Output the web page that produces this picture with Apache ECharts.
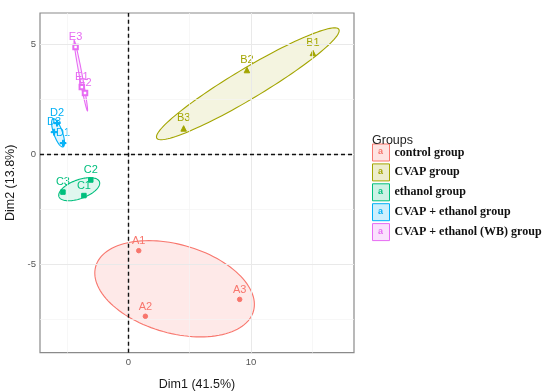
<!DOCTYPE html>
<html>
<head>
<meta charset="utf-8">
<script src="https://cdn.jsdelivr.net/npm/echarts@6/dist/echarts.min.js"></script>
<style>html,body{margin:0;padding:0;background:#fff}#c{width:550px;height:391px}</style>
</head>
<body>
<div id="c"></div>
<script>
// ---- data ----
const groupNames = ['control group', 'CVAP group', 'ethanol group', 'CVAP + ethanol group', 'CVAP + ethanol (WB) group'];
const controlLabels = ['A1', 'A2', 'A3'];
const controlDim1 = [0.85, 1.39, 9.08];
const controlDim2 = [-4.39, -7.38, -6.61];
const cvapLabels = ['B1', 'B2', 'B3'];
const cvapDim1 = [15.05, 9.67, 4.51];
const cvapDim2 = [4.62, 3.84, 1.18];
const ethanolLabels = ['C1', 'C2', 'C3'];
const ethanolDim1 = [-3.62, -3.06, -5.33];
const ethanolDim2 = [-1.88, -1.17, -1.72];
const cvapEthLabels = ['D1', 'D2', 'D3'];
const cvapEthDim1 = [-5.32, -5.81, -6.05];
const cvapEthDim2 = [0.51, 1.42, 1.01];
const wbLabels = ['E1', 'E2', 'E3'];
const wbDim1 = [-3.79, -3.53, -4.30];
const wbDim2 = [3.07, 2.80, 4.89];
const xTicks = [0, 10];
const xMinorTicks = [-5, 5, 15];
const yTicks = [-5, 0, 5];
const yMinorTicks = [-7.5, -2.5, 2.5];
const xRange = [-7.2, 18.4];
const yRange = [-9.04, 6.44];

// ---- styles ----
const colors = ['#F8766D', '#A3A500', '#00BF7D', '#00B0F6', '#E76BF3'];
const fills = ['rgba(248,118,109,0.16)', 'rgba(163,165,0,0.12)', 'rgba(0,191,125,0.12)', 'rgba(0,176,246,0.12)', 'rgba(231,107,243,0.12)'];
const keyFills = ['rgba(248,118,109,0.2)', 'rgba(163,165,0,0.2)', 'rgba(0,191,125,0.2)', 'rgba(0,176,246,0.2)', 'rgba(231,107,243,0.2)'];
const symbols = ['circle', 'triangle', 'rect',
  'path://M-0.18,-1H0.18V-0.18H1V0.18H0.18V1H-0.18V0.18H-1V-0.18H-0.18Z',
  'emptyRect'];
const symbolSizes = [4.5, 5.5, 4.5, 6, 4.5];

const groups = [
  [controlLabels, controlDim1, controlDim2],
  [cvapLabels, cvapDim1, cvapDim2],
  [ethanolLabels, ethanolDim1, ethanolDim2],
  [cvapEthLabels, cvapEthDim1, cvapEthDim2],
  [wbLabels, wbDim1, wbDim2]
];

// confidence ellipse of the group mean (95%, chi-square 2 df)
const CHI2_95 = 5.991;
function ellipse(xs, ys, nSeg) {
  const n = xs.length;
  const mx = xs.reduce((a, b) => a + b, 0) / n;
  const my = ys.reduce((a, b) => a + b, 0) / n;
  let sxx = 0, syy = 0, sxy = 0;
  for (let i = 0; i < n; i++) {
    sxx += (xs[i] - mx) ** 2; syy += (ys[i] - my) ** 2; sxy += (xs[i] - mx) * (ys[i] - my);
  }
  sxx /= (n - 1); syy /= (n - 1); sxy /= (n - 1);
  const tr = sxx + syy, det = sxx * syy - sxy * sxy;
  const disc = Math.sqrt(Math.max(tr * tr / 4 - det, 0));
  const l1 = tr / 2 + disc, l2 = Math.max(tr / 2 - disc, 0);
  let vx, vy;
  if (Math.abs(sxy) > 1e-12) { vx = l1 - syy; vy = sxy; } else if (sxx >= syy) { vx = 1; vy = 0; } else { vx = 0; vy = 1; }
  const vn = Math.hypot(vx, vy); vx /= vn; vy /= vn;
  const r = Math.sqrt(CHI2_95 / n);
  const a = r * Math.sqrt(l1), b = r * Math.sqrt(l2);
  const pts = [];
  for (let k = 0; k <= nSeg; k++) {
    const t = 2 * Math.PI * k / nSeg;
    const u = a * Math.cos(t), v = b * Math.sin(t);
    pts.push([mx + u * vx - v * vy, my + u * vy + v * vx]);
  }
  return pts;
}

const ellipseData = groups.map((g, i) => ({ value: [i], pts: ellipse(g[1], g[2], 120) }));

const series = [];
const gridLine = (c, w) => ({ color: c, width: w, type: 'solid' });
series.push({
  type: 'scatter', data: [], z: 0, silent: true,
  markLine: {
    silent: true, symbol: ['none', 'none'], label: { show: false }, animation: false,
    data: [
      ...xMinorTicks.map(v => ({ xAxis: v, lineStyle: gridLine('#f3f3f3', 0.7) })),
      ...yMinorTicks.map(v => ({ yAxis: v, lineStyle: gridLine('#f3f3f3', 0.7) })),
      ...xTicks.map(v => ({ xAxis: v, lineStyle: gridLine('#e9e9e9', 1) })),
      ...yTicks.map(v => ({ yAxis: v, lineStyle: gridLine('#e9e9e9', 1) }))
    ]
  }
});
series.push({
  type: 'custom', z: 1, silent: true,
  data: ellipseData.map(d => d.value),
  renderItem: function (params, api) {
    const i = api.value(0);
    const points = ellipseData[i].pts.map(p => api.coord(p));
    return {
      type: 'polygon', shape: { points: points },
      style: { fill: fills[i], stroke: colors[i], lineWidth: 1.1 }
    };
  }
});
series.push({
  type: 'scatter', data: [], z: 2, silent: true,
  markLine: {
    silent: true, symbol: ['none', 'none'], label: { show: false }, animation: false,
    lineStyle: { color: '#111', width: 1.4, type: [4, 3] },
    data: [{ xAxis: 0 }, { yAxis: 0 }]
  }
});
groups.forEach((g, i) => {
  series.push({
    name: groupNames[i], type: 'scatter', z: 3,
    symbol: symbols[i], symbolSize: symbolSizes[i],
    itemStyle: { color: colors[i], borderColor: colors[i], opacity: 1 },
    label: {
      show: true, position: 'top', distance: 1.5, formatter: p => p.name,
      color: colors[i], fontSize: 11, fontFamily: 'Liberation Sans, Arial, sans-serif'
    },
    data: g[0].map((lab, k) => ({ name: lab, value: [g[1][k], g[2][k]] }))
  });
});

const KEY_TOP = 143.5, KEY_H = 17, KEY_GAP = 1.9;
const option = {
  animation: false,
  backgroundColor: '#fff',
  title: {
    text: 'Groups', left: 372, top: 134, padding: 0,
    textStyle: { fontSize: 12.5, fontWeight: 'normal', color: '#222', fontFamily: 'Liberation Sans, Arial, sans-serif' }
  },
  legend: {
    orient: 'vertical', left: 372, top: KEY_TOP, padding: 0, itemWidth: 17, itemHeight: KEY_H, itemGap: KEY_GAP,
    selectedMode: false,
    textStyle: { fontFamily: 'Liberation Serif, Times New Roman, serif', fontWeight: 'bold', fontSize: 12, color: '#111', lineHeight: 17 },
    data: groupNames.map((n, i) => ({
      name: n, icon: 'rect',
      itemStyle: { color: keyFills[i], borderColor: colors[i], borderWidth: 1 }
    }))
  },
  grid: { left: 40, top: 13, right: 196, bottom: 38.3, show: true, borderColor: '#8a8a8a', borderWidth: 1.2, backgroundColor: '#fff', containLabel: false, outerBoundsMode: 'none' },
  xAxis: {
    type: 'value', min: xRange[0], max: xRange[1],
    name: 'Dim1 (41.5%)', nameLocation: 'middle', nameGap: 25,
    nameTextStyle: { fontSize: 12.5, color: '#1a1a1a', fontFamily: 'Liberation Sans, Arial, sans-serif' },
    axisLine: { show: false },
    axisTick: { show: true, length: 3, lineStyle: { color: '#555' }, customValues: xTicks },
    axisLabel: { customValues: xTicks, fontSize: 9.5, color: '#555', margin: 5, fontFamily: 'Liberation Sans, Arial, sans-serif' },
    splitLine: { show: false }
  },
  yAxis: {
    type: 'value', min: yRange[0], max: yRange[1],
    name: 'Dim2 (13.8%)', nameLocation: 'middle', nameGap: 21,
    nameTextStyle: { fontSize: 12.5, color: '#1a1a1a', fontFamily: 'Liberation Sans, Arial, sans-serif' },
    axisLine: { show: false },
    axisTick: { show: true, length: 3, lineStyle: { color: '#555' }, customValues: yTicks },
    axisLabel: { customValues: yTicks, fontSize: 9.5, color: '#555', margin: 4, fontFamily: 'Liberation Sans, Arial, sans-serif' },
    splitLine: { show: false }
  },
  series: series
};
const chart = echarts.init(document.getElementById('c'), null, { renderer: 'canvas' });
chart.setOption(option);

// small "a" glyphs inside the legend keys, placed on the legend's own item boxes
function placeKeyLetters() {
  const legendView = chart.getViewOfComponentModel(chart.getModel().getComponent('legend'));
  const els = [];
  if (legendView && legendView.getContentGroup) {
    legendView.getContentGroup().eachChild(function (itemGroup, i) {
      const r = itemGroup.getBoundingRect();
      const cy = itemGroup.y + KEY_H / 2;
      const cx = 372 + 17 / 2;
      els.push({ cy: cy + KEY_TOP, cx: cx });
    });
  }
  const graphics = groupNames.map((n, i) => {
    const pos = els[i] || { cx: 380.5, cy: KEY_TOP + KEY_H / 2 + i * (KEY_H + KEY_GAP) };
    return {
      type: 'text', x: pos.cx, y: pos.cy, silent: true, z: 100,
      style: { text: 'a', fill: colors[i], fontSize: 9, fontWeight: 'bold', fontFamily: 'Liberation Sans, Arial, sans-serif', align: 'center', verticalAlign: 'middle' }
    };
  });
  chart.setOption({ graphic: graphics });
}
try { placeKeyLetters(); } catch (e) {
  chart.setOption({ graphic: groupNames.map((n, i) => ({
    type: 'text', x: 380.5, y: KEY_TOP + KEY_H / 2 + i * (KEY_H + KEY_GAP), silent: true, z: 100,
    style: { text: 'a', fill: colors[i], fontSize: 9, fontWeight: 'bold', align: 'center', verticalAlign: 'middle' }
  })) });
}
</script>
</body>
</html>
